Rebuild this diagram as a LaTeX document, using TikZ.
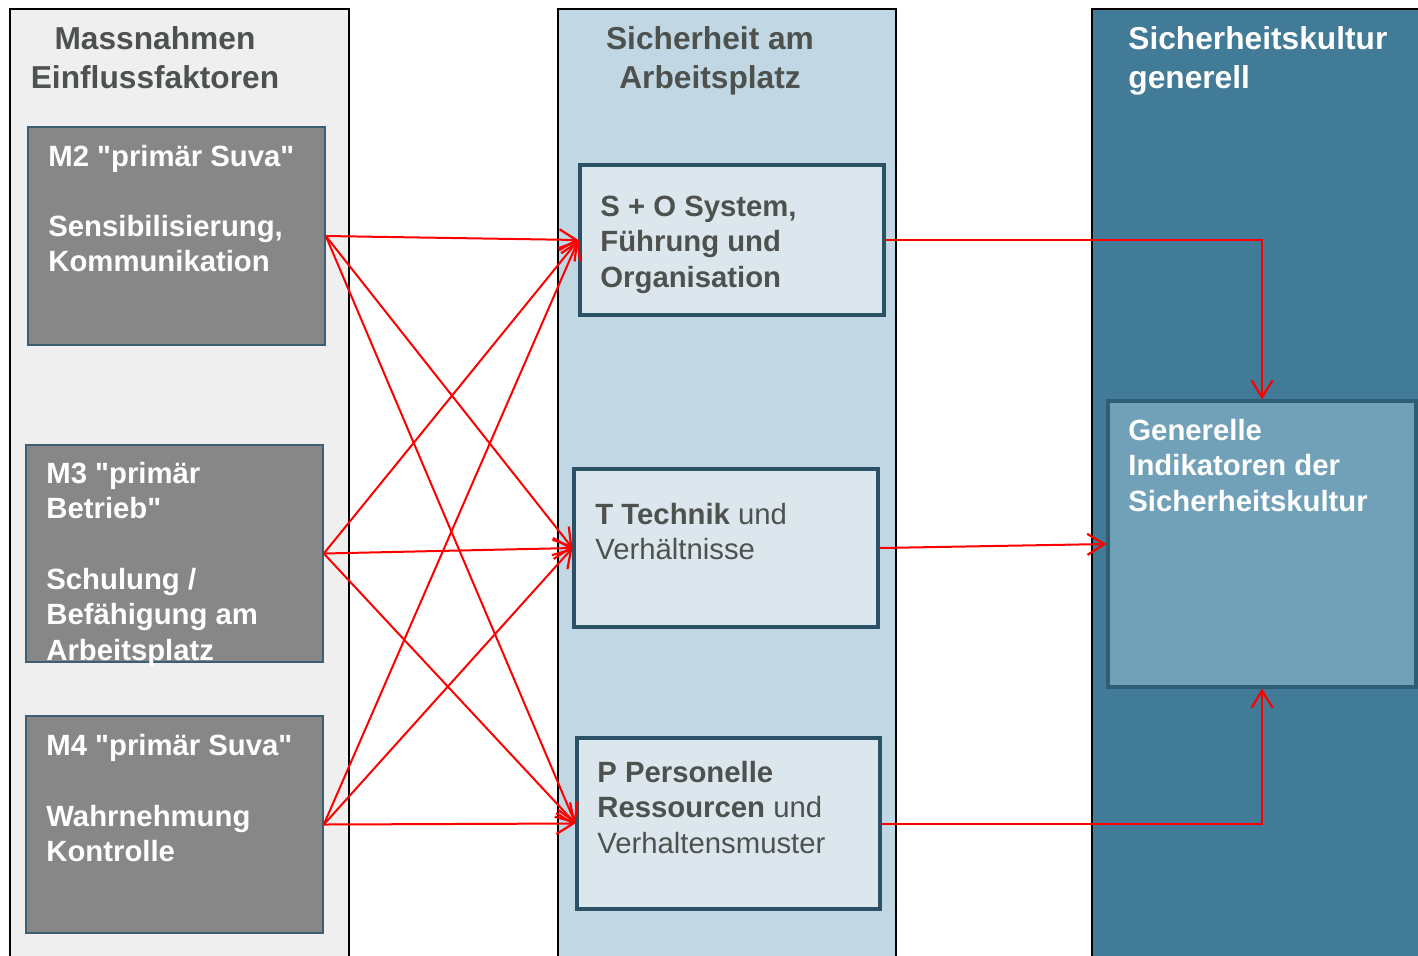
\documentclass[tikz,border=0pt]{standalone}
\usepackage{fontspec}
\setmainfont{Liberation Sans}[Ligatures=TeXOff]
\usetikzlibrary{arrows.meta}

\definecolor{colgray}{HTML}{EFEFEF}
\definecolor{colblue}{HTML}{C1D8E4}
\definecolor{colteal}{HTML}{417B97}
\definecolor{boxgray}{HTML}{878787}
\definecolor{boxgrayline}{HTML}{3C5F73}
\definecolor{boxpale}{HTML}{DCE6ED}
\definecolor{boxline}{HTML}{2B5166}
\definecolor{boxmid}{HTML}{70A1B8}
\definecolor{boxmidline}{HTML}{2D5E73}
\definecolor{txtdark}{HTML}{4D524F}

% multi-line text whose baseline is that of its first line
\newcommand\txtlines[2][l]{\begin{tabular}[t]{@{}#1@{}}#2\end{tabular}}

\begin{document}
\begin{tikzpicture}[x=0.5pt,y=-0.5pt,
  column/.style={draw=black,line width=1pt},
  mbox/.style={draw=boxgrayline,fill=boxgray,line width=0.8pt,inner sep=0pt},
  sbox/.style={draw=boxline,fill=boxpale,line width=1.6pt,inner sep=0pt},
  ibox/.style={draw=boxmidline,fill=boxmid,line width=1.6pt,inner sep=0pt},
  heading/.style={inner sep=0pt,font=\fontsize{15.85}{19.5}\selectfont\bfseries},
  btext/.style={inner sep=0pt,anchor=base west,font=\fontsize{14.65}{17.65}\selectfont},
  link/.style={draw=red,line width=1pt,-{Straight Barb[length=8.5pt,width=10.5pt,line width=1.1pt]}}
]
\useasboundingbox (0,0) rectangle (1418,955);
\clip (0,0) rectangle (1418,955);

% three column bands
\filldraw[column,fill=colgray] (10,9) rectangle (349,970);
\filldraw[column,fill=colblue] (558,9) rectangle (896,970);
\filldraw[column,fill=colteal] (1092,9) rectangle (1430,970);

% column headings
\node[heading,text=txtdark,anchor=base] (h1) at (155,49.5)
  {\txtlines[c]{Massnahmen\\Einflussfaktoren}};
\node[heading,text=txtdark,anchor=base] (h2) at (710,49.5)
  {\txtlines[c]{Sicherheit am\\Arbeitsplatz}};
\node[heading,text=white,anchor=base west] (h3) at (1128,49.5)
  {\txtlines{Sicherheitskultur\\generell}};

% measures
\node[mbox,minimum width=148.5pt,minimum height=109pt] (m2) at (176.5,236) {};
\node[mbox,minimum width=148.5pt,minimum height=108.5pt] (m3) at (174.5,553.5) {};
\node[mbox,minimum width=148.5pt,minimum height=108.5pt] (m4) at (174.5,824.5) {};

\node[btext,text=white,font=\fontsize{14.65}{17.65}\selectfont\bfseries] (t2) at (48,166)
  {\txtlines{M2 "primär Suva"\\ \\ Sensibilisierung,\\Kommunikation}};
\node[btext,text=white,font=\fontsize{14.65}{17.65}\selectfont\bfseries] (t3) at (46,483.5)
  {\txtlines{M3 "primär\\Betrieb"\\ \\ Schulung /\\Befähigung am\\Arbeitsplatz}};
\node[btext,text=white,font=\fontsize{14.65}{17.65}\selectfont\bfseries] (t4) at (46,755.5)
  {\txtlines{M4 "primär Suva"\\ \\ Wahrnehmung\\Kontrolle}};

% workplace safety
\node[sbox,minimum width=152pt,minimum height=75pt] (so) at (732,240) {};
\node[sbox,minimum width=152pt,minimum height=79pt] (tt) at (726,548) {};
\node[sbox,minimum width=151.5pt,minimum height=85.5pt] (pp) at (728.5,823.5) {};

\node[btext,text=txtdark,font=\fontsize{14.65}{17.65}\selectfont\bfseries] (tso) at (600,216.5)
  {\txtlines{S + O System,\\Führung und\\Organisation}};
\node[btext,text=txtdark] (ttt) at (595,524.5)
  {\txtlines{\textbf{T Technik} und\\Verhältnisse}};
\node[btext,text=txtdark] (tpp) at (597,782.5)
  {\txtlines{\textbf{P Personelle}\\\textbf{Ressourcen} und\\Verhaltensmuster}};

% general indicators
\node[ibox,minimum width=154pt,minimum height=143pt] (gi) at (1262,544) {};
\node[btext,text=white,font=\fontsize{14.65}{17.65}\selectfont\bfseries] (tgi) at (1128,440.5)
  {\txtlines{Generelle\\Indikatoren der\\Sicherheitskultur}};

% influences of the measures
\foreach \m in {m2,m3,m4}{
  \foreach \s in {so,tt,pp}{
    \draw[link] (\m.east) -- (\s.west);
  }
}

% effects on the safety culture
\draw[link] (so.east) -| (gi.north);
\draw[link] (tt.east) -- (gi.west);
\draw[link] (pp.east) -| (gi.south);
\end{tikzpicture}
\end{document}
